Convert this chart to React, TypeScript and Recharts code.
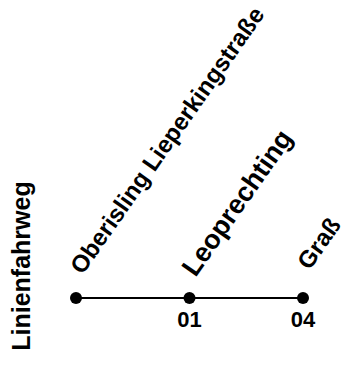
import { LineChart, Line, XAxis, YAxis, LabelList, Label } from 'recharts';

const stations = ['Oberisling Lieperkingstraße', 'Leoprechting', 'Graß'];
const stopCodes = ['', '01', '04'];
const level = [0, 0, 0];
const axisTitle = 'Linienfahrweg';

const FONT = '"Liberation Sans", Arial, Helvetica, sans-serif';
// per-label text styling (size + nudge from the stop dot)
const labelStyle = [
  { size: 24, dx: 6.5, dy: -22.5 },
  { size: 27, dx: 6, dy: -20 },
  { size: 24, dx: 6.5, dy: -27 },
];

const data = stations.map((name, i) => ({ name, code: stopCodes[i], v: level[i] }));

const StationLabel = (props: any) => {
  const { x, y, value, index } = props;
  const st = labelStyle[index] ?? labelStyle[0];
  const tx = x + st.dx;
  const ty = y + st.dy;
  return (
    <text
      x={tx}
      y={ty}
      transform={`rotate(-55, ${tx}, ${ty})`}
      textAnchor="start"
      fontFamily={FONT}
      fontWeight="bold"
      fontSize={st.size}
      fill="#000"
    >
      {value}
    </text>
  );
};

const CodeLabel = (props: any) => {
  const { x, y, value } = props;
  if (!value) return null;
  return (
    <text
      x={x}
      y={y + 29}
      textAnchor="middle"
      fontFamily={FONT}
      fontWeight="bold"
      fontSize={22}
      fill="#000"
    >
      {value}
    </text>
  );
};

export default function App() {
  return (
    <div style={{ position: 'absolute', left: 0, top: 0, background: '#fff' }}>
      <LineChart
        width={345}
        height={366}
        data={data}
        margin={{ top: 230, right: 42, bottom: 0, left: 0 }}
      >
        <XAxis dataKey="name" hide />
        <YAxis
          domain={[-1, 1]}
          width={76}
          tick={false}
          axisLine={false}
          tickLine={false}
        >
          <Label
            content={() => {
              const cx = 30;
              const cy = 266;
              return (
                <text
                  x={cx}
                  y={cy}
                  transform={`rotate(-90, ${cx}, ${cy})`}
                  textAnchor="middle"
                  fontFamily={FONT}
                  fontWeight="bold"
                  fontSize={25}
                  fill="#000"
                >
                  {axisTitle}
                </text>
              );
            }}
          />
        </YAxis>
        <Line
          dataKey="v"
          stroke="#000"
          strokeWidth={2}
          dot={{ r: 6, fill: '#000', stroke: '#000', strokeWidth: 0 }}
          isAnimationActive={false}
        >
          <LabelList dataKey="name" content={StationLabel} />
          <LabelList dataKey="code" content={CodeLabel} />
        </Line>
      </LineChart>
    </div>
  );
}
